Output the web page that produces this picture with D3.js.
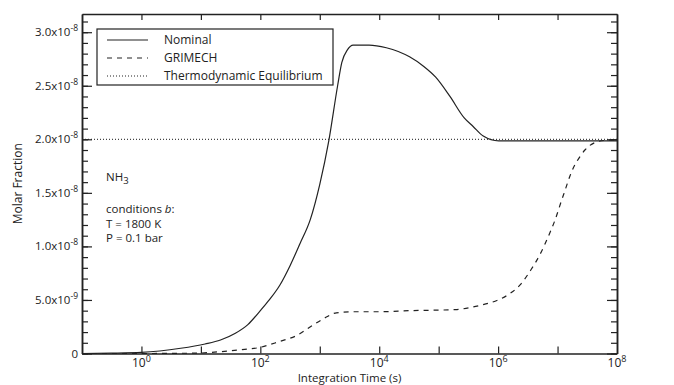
<!DOCTYPE html>
<html><head><meta charset="utf-8">
<script src="https://cdn.jsdelivr.net/npm/d3@7"></script>
<style>
html,body{margin:0;padding:0;background:#fff;}
svg{display:block;font-family:"Open Sans",sans-serif;}
</style></head>
<body><svg id="c" width="674" height="385"></svg>
<script>
// ---- data ----
const nominalLogT = [-1.0,-0.5,0.0,0.66,1.07,1.33,1.58,1.79,2.0,2.15,2.33,2.5,2.67,2.84,3.0,3.15,3.30,3.37,3.47,3.56,3.83,4.12,4.32,4.51,4.75,4.95,5.19,5.43,5.58,5.75,6.01,6.5,7.0,7.5,8.0];
const nominalValue = [0,0.03e-9,0.1e-9,0.49e-9,0.89e-9,1.26e-9,1.89e-9,2.7e-9,4.0e-9,5.0e-9,6.4e-9,8.2e-9,1.03e-8,1.25e-8,1.58e-8,1.98e-8,2.50e-8,2.715e-8,2.84e-8,2.88e-8,2.88e-8,2.855e-8,2.82e-8,2.77e-8,2.68e-8,2.58e-8,2.40e-8,2.20e-8,2.12e-8,2.03e-8,1.985e-8,1.985e-8,1.985e-8,1.985e-8,1.985e-8];
const grimechLogT = [-1.0,0.0,0.66,0.97,1.33,1.64,2.0,2.31,2.62,2.87,3.08,3.28,3.59,4.0,4.51,5.28,5.7,6.0,6.2,6.37,6.55,6.70,6.85,6.96,7.05,7.13,7.21,7.29,7.38,7.46,7.63,7.80,8.0];
const grimechValue = [0,0,0.02e-9,0.04e-9,0.17e-9,0.33e-9,0.58e-9,1.1e-9,1.7e-9,2.6e-9,3.3e-9,3.8e-9,3.9e-9,3.9e-9,4.0e-9,4.1e-9,4.5e-9,5.0e-9,5.6e-9,6.4e-9,7.8e-9,9.2e-9,1.10e-8,1.25e-8,1.40e-8,1.53e-8,1.66e-8,1.76e-8,1.84e-8,1.90e-8,1.97e-8,1.99e-8,1.995e-8];
const equilibriumValue = 2.0e-8;
const xTickExponents = [0,1,2,3,4,5,6,7];
const xLabelExponents = [0,2,4,6,8];
const yMajorTicks = [0,0.5e-8,1.0e-8,1.5e-8,2.0e-8,2.5e-8,3.0e-8];
const yMajorMantissa = ["0","5.0","1.0","1.5","2.0","2.5","3.0"];
const yMajorExp = ["","-9","-8","-8","-8","-8","-8"];
const legendLabels = ["Nominal","GRIMECH","Thermodynamic Equilibrium"];

// ---- layout ----
const L=82,R=617,T=14,B=353.5;
const svg=d3.select("#c");
const x=d3.scaleLog().domain([1e-1,1e8]).range([L,R]);
const y=d3.scaleLinear().domain([0,3.17e-8]).range([B,T]);
const ink="#222";

const nominal=nominalLogT.map((e,i)=>({t:Math.pow(10,e),v:nominalValue[i]}));
const grimech=grimechLogT.map((e,i)=>({t:Math.pow(10,e),v:grimechValue[i]}));
const line=d3.line().x(d=>x(d.t)).y(d=>y(d.v)).curve(d3.curveMonotoneX);

// equilibrium
svg.append("line").attr("x1",x(1e-1)).attr("x2",x(1e8)).attr("y1",y(equilibriumValue)).attr("y2",y(equilibriumValue))
  .attr("stroke","#444").attr("stroke-width",1.2).attr("stroke-dasharray","1,2");
svg.append("path").datum(grimech).attr("d",line).attr("fill","none").attr("stroke",ink).attr("stroke-width",1.2).attr("stroke-dasharray","5,5");
svg.append("path").datum(nominal).attr("d",line).attr("fill","none").attr("stroke",ink).attr("stroke-width",1.2);

// axes
const decTicks=xTickExponents.map(e=>Math.pow(10,e));
const minorY=d3.range(0,32).map(i=>i*1e-9);
function style(g){g.selectAll("path.domain").attr("stroke",ink).attr("stroke-width",1.5);g.selectAll(".tick line").attr("stroke",ink).attr("stroke-width",1.2);g.selectAll("text").remove();}
svg.append("g").attr("transform",`translate(0,${B})`).call(d3.axisBottom(x).tickValues(decTicks).tickSize(-7).tickSizeOuter(0)).call(style);
svg.append("g").attr("transform",`translate(0,${T})`).call(d3.axisTop(x).tickValues(decTicks).tickSize(-6).tickSizeOuter(0)).call(style);
svg.append("g").attr("transform",`translate(${L},0)`).call(d3.axisLeft(y).tickValues(minorY).tickSize(-6).tickSizeOuter(0)).call(style);
svg.append("g").attr("transform",`translate(${L},0)`).call(d3.axisLeft(y).tickValues(yMajorTicks).tickSize(-10).tickSizeOuter(0)).call(style);
svg.append("g").attr("transform",`translate(${R},0)`).call(d3.axisRight(y).tickValues(minorY).tickSize(-6).tickSizeOuter(0)).call(style);
svg.append("g").attr("transform",`translate(${R},0)`).call(d3.axisRight(y).tickValues(yMajorTicks).tickSize(-10).tickSizeOuter(0)).call(style);

// x labels
xLabelExponents.forEach(e=>{
  const t=svg.append("text").attr("x",x(Math.pow(10,e))).attr("y",367).attr("text-anchor","middle").attr("font-size",12).attr("fill",ink);
  t.append("tspan").text("10");
  t.append("tspan").attr("dy",-5).attr("font-size",9).text(String(e));
});
// y labels
yMajorTicks.forEach((v,i)=>{
  const t=svg.append("text").attr("x",78).attr("y",y(v)+4).attr("text-anchor","end").attr("font-size",11.5).attr("fill",ink);
  if(yMajorExp[i]===""){t.text(yMajorMantissa[i]);}
  else{t.append("tspan").text(yMajorMantissa[i]+"x10");t.append("tspan").attr("dy",-5).attr("font-size",8.5).text(yMajorExp[i]);}
});
// titles
svg.append("text").attr("x",(L+R)/2).attr("y",382).attr("text-anchor","middle").attr("font-size",11.5).attr("fill",ink).text("Integration Time (s)");
svg.append("text").attr("transform",`translate(22,${(T+B)/2}) rotate(-90)`).attr("text-anchor","middle").attr("font-size",12).attr("fill",ink).text("Molar Fraction");

// legend
const lg=svg.append("g");
lg.append("rect").attr("x",97).attr("y",29).attr("width",236).attr("height",56).attr("fill","#fff").attr("stroke",ink).attr("stroke-width",1.2);
const dashes=[null,"5,5","1,2"];
legendLabels.forEach((s,i)=>{
  const yy=40+i*18;
  lg.append("line").attr("x1",107).attr("x2",148).attr("y1",yy).attr("y2",yy).attr("stroke",ink).attr("stroke-width",1.2).attr("stroke-dasharray",dashes[i]);
  lg.append("text").attr("x",164).attr("y",yy+4).attr("font-size",12).attr("fill",ink).text(s);
});

// annotation
const an=svg.append("g").attr("font-size",11.5).attr("fill",ink);
const nh=an.append("text").attr("x",106).attr("y",181);
nh.append("tspan").text("NH");
nh.append("tspan").attr("dy",3).attr("font-size",9.5).text("3");
an.append("text").attr("x",106).attr("y",213).html('conditions <tspan font-style="italic">b</tspan>:');
an.append("text").attr("x",106).attr("y",227.5).text("T = 1800 K");
an.append("text").attr("x",106).attr("y",242).text("P = 0.1 bar");
</script></body></html>
